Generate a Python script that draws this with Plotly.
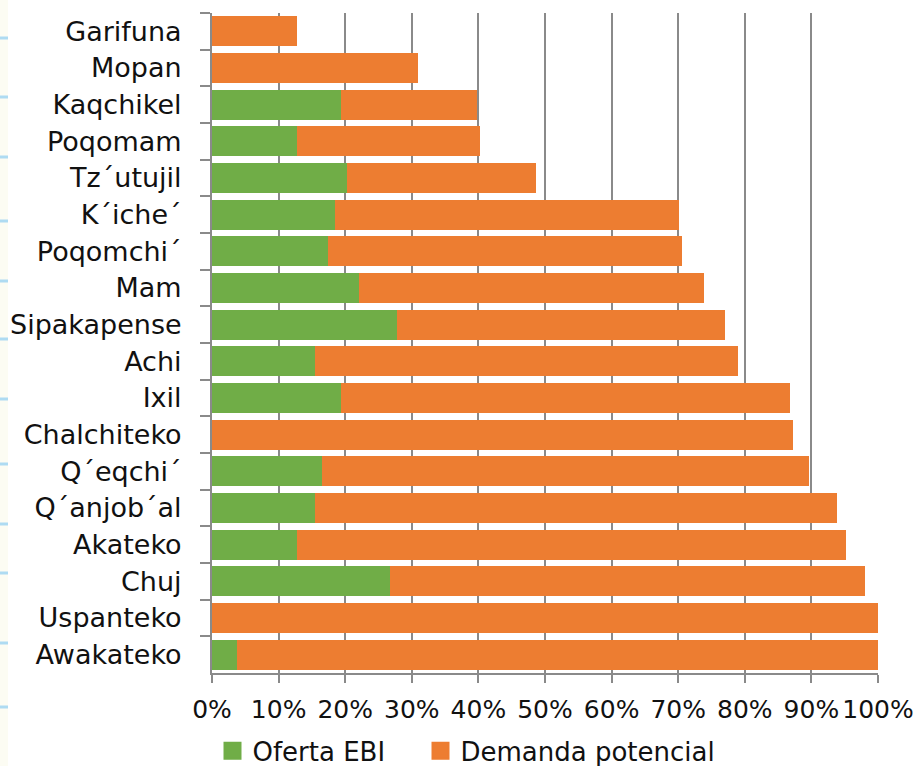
import plotly.graph_objects as go

categories = ["Garifuna", "Mopan", "Kaqchikel", "Poqomam", "Tz´utujil", "K´iche´",
              "Poqomchi´", "Mam", "Sipakapense", "Achi", "Ixil", "Chalchiteko",
              "Q´eqchi´", "Q´anjob´al", "Akateko", "Chuj", "Uspanteko", "Awakateko"]
oferta_ebi = [0, 0, 19.3, 12.7, 20.2, 18.4, 17.4, 22.0, 27.8, 15.5, 19.3, 0,
              16.5, 15.5, 12.7, 26.7, 0, 3.8]
total = [12.7, 30.9, 39.8, 40.2, 48.6, 70.1, 70.6, 73.9, 77.0, 79.0, 86.8, 87.2,
         89.7, 93.8, 95.2, 98.0, 100.0, 100.0]
demanda_potencial = [round(t - o, 1) for t, o in zip(total, oferta_ebi)]
x_ticks = list(range(0, 101, 10))
x_tick_labels = [f"{v}%" for v in x_ticks]
series_names = ["Oferta EBI", "Demanda potencial"]

GREEN = "#70AD47"
ORANGE = "#ED7D31"
GRID = "#8a8a8a"
FONT = "DejaVu Sans"
TXT = "#111111"

fig = go.Figure()
fig.add_trace(go.Bar(y=categories, x=oferta_ebi, orientation="h", name=series_names[0],
                     marker=dict(color=GREEN, line=dict(width=0)), showlegend=False))
fig.add_trace(go.Bar(y=categories, x=demanda_potencial, orientation="h", name=series_names[1],
                     marker=dict(color=ORANGE, line=dict(width=0)), showlegend=False))
for nm, col, lg in zip(series_names, [GREEN, ORANGE], ["legend", "legend2"]):
    fig.add_trace(go.Scatter(x=[None], y=[None], mode="markers", name=nm, legend=lg,
                             marker=dict(symbol="square", size=16, color=col,
                                         line=dict(color=col, width=2))))

# decorative page strip at the far left (scan background)
PL, PW, PT, PH = 212, 666, 13, 660
def px_x(p):
    return (p - PL) / PW
def px_y(p):
    return (PT + PH - p) / PH
shapes = [dict(type="rect", xref="paper", yref="paper", x0=px_x(-2), x1=px_x(8),
               y0=px_y(770), y1=px_y(-4), fillcolor="#FCFCF3", line=dict(width=0), layer="below")]
for dy in [38, 97, 157, 221, 281, 339, 399, 464, 524, 573, 643, 707]:
    shapes.append(dict(type="rect", xref="paper", yref="paper", x0=px_x(-2), x1=px_x(8),
                       y0=px_y(dy + 1.5), y1=px_y(dy - 1.5), fillcolor="#AEDBF2",
                       line=dict(width=0), layer="below"))

leg_common = dict(orientation="h", yanchor="top", xanchor="left", y=-0.0825,
                  font=dict(family=FONT, size=26, color=TXT),
                  bgcolor="rgba(0,0,0,0)", itemclick=False, itemdoubleclick=False)

fig.update_layout(
    width=917, height=766,
    margin=dict(l=PL, r=917 - PL - PW, t=PT, b=766 - PT - PH, autoexpand=False),
    paper_bgcolor="white", plot_bgcolor="white",
    barmode="stack", bargap=0.18,
    font=dict(family=FONT, size=26, color=TXT),
    showlegend=True,
    shapes=shapes,
    legend=dict(x=px_x(212.5), **leg_common),
    legend2=dict(x=px_x(420.5), **leg_common),
)
fig.update_xaxes(range=[0, 100], tickmode="array", tickvals=x_ticks, ticktext=x_tick_labels,
                 showgrid=True, gridcolor=GRID, gridwidth=2,
                 showline=True, linecolor=GRID, linewidth=2,
                 ticks="outside", ticklen=8, tickwidth=2, tickcolor=GRID,
                 tickangle=0, ticklabelstandoff=5, zeroline=False, automargin=False,
                 tickfont=dict(family=FONT, size=25, color=TXT))
fig.update_yaxes(categoryorder="array", categoryarray=categories, autorange="reversed",
                 showgrid=False, showline=True, linecolor=GRID, linewidth=2,
                 ticks="outside", ticklen=10, tickwidth=2, tickcolor=GRID,
                 tickson="boundaries", ticklabelstandoff=23, automargin=False,
                 tickfont=dict(family=FONT, size=27, color=TXT))

fig.write_html("out.html", config={"displayModeBar": False, "staticPlot": True},
               post_script="document.body.style.margin='0';document.body.style.overflow='hidden';")
